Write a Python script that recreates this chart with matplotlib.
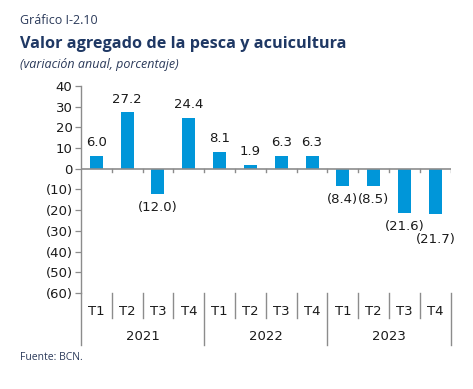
import matplotlib.pyplot as plt
import matplotlib.transforms as mtransforms

quarters = ['T1', 'T2', 'T3', 'T4'] * 3
years = ['2021', '2022', '2023']
values = [6.0, 27.2, -12.0, 24.4, 8.1, 1.9, 6.3, 6.3, -8.4, -8.5, -21.6, -21.7]
yticks = [40, 30, 20, 10, 0, -10, -20, -30, -40, -50, -60]

bar_color = '#0096d9'
axis_color = '#8c8c8c'


def fmt(v):
    if v < 0:
        return '({:.1f})'.format(-v)
    return '{:.1f}'.format(v)


fig = plt.figure(figsize=(4.73, 3.89), dpi=100)
ax = fig.add_axes([0.171, 0.247, 0.782, 0.532])

x = list(range(len(values)))
ax.bar(x, values, width=0.42, color=bar_color, zorder=2)

for xi, v in zip(x, values):
    off = 5 if v >= 0 else -5
    if xi == len(values) - 1:
        off = -14  # excel nudged the last label down to avoid overlap
    ax.annotate(fmt(v), (xi, v), xytext=(0, off), textcoords='offset points',
                ha='center', va='bottom' if v >= 0 else 'top',
                fontsize=9.5, family='DejaVu Sans', color='#1a1a1a')

ax.set_xlim(-0.5, len(values) - 0.5)
ax.set_ylim(-60, 40)
ax.set_yticks(yticks)
ax.set_yticklabels([fmt(t).replace('.0', '') for t in yticks], fontsize=9.5, color='#1a1a1a')
ax.tick_params(axis='y', length=4, width=0.9, color=axis_color, pad=2)

for s in ['top', 'right', 'bottom']:
    ax.spines[s].set_visible(False)
ax.spines['left'].set_color(axis_color)
ax.spines['left'].set_linewidth(1.0)

ax.set_xticks([])
ax.axhline(0, color=axis_color, lw=1.2, zorder=3)

# small ticks on the zero line
for b in range(1, len(values) + 1):
    ax.plot([b - 0.5, b - 0.5], [0, -1.8], color=axis_color, lw=1.0, zorder=3)

# category axis below the plot
trans = mtransforms.blended_transform_factory(ax.transData, ax.transAxes)
for b in range(len(values) + 1):
    xb = b - 0.5
    y_end = -0.25 if b % 4 == 0 else -0.12
    ax.plot([xb, xb], [0, y_end], color=axis_color, lw=1.0, transform=trans, clip_on=False)

for xi, q in zip(x, quarters):
    ax.text(xi, -0.09, q, transform=trans, ha='center', va='center', fontsize=9.5, color='#1a1a1a')
for i, yr in enumerate(years):
    ax.text(4 * i + 1.5, -0.21, yr, transform=trans, ha='center', va='center', fontsize=9.5, color='#1a1a1a')

fig.text(0.042, 0.948, 'Gráfico I-2.10', fontsize=9, color='#2b3a5a', family='Open Sans', va='center')
fig.text(0.042, 0.887, 'Valor agregado de la pesca y acuicultura', fontsize=11.7, fontweight='bold',
         color='#1f3864', family='Open Sans', va='center')
fig.text(0.042, 0.835, '(variación anual, porcentaje)', fontsize=9, style='italic',
         color='#2b3a5a', family='Open Sans', va='center')
fig.text(0.042, 0.08, 'Fuente: BCN.', fontsize=7.5, color='#2b3a5a', family='Open Sans', va='center')

fig.savefig('out.png', dpi=100)
